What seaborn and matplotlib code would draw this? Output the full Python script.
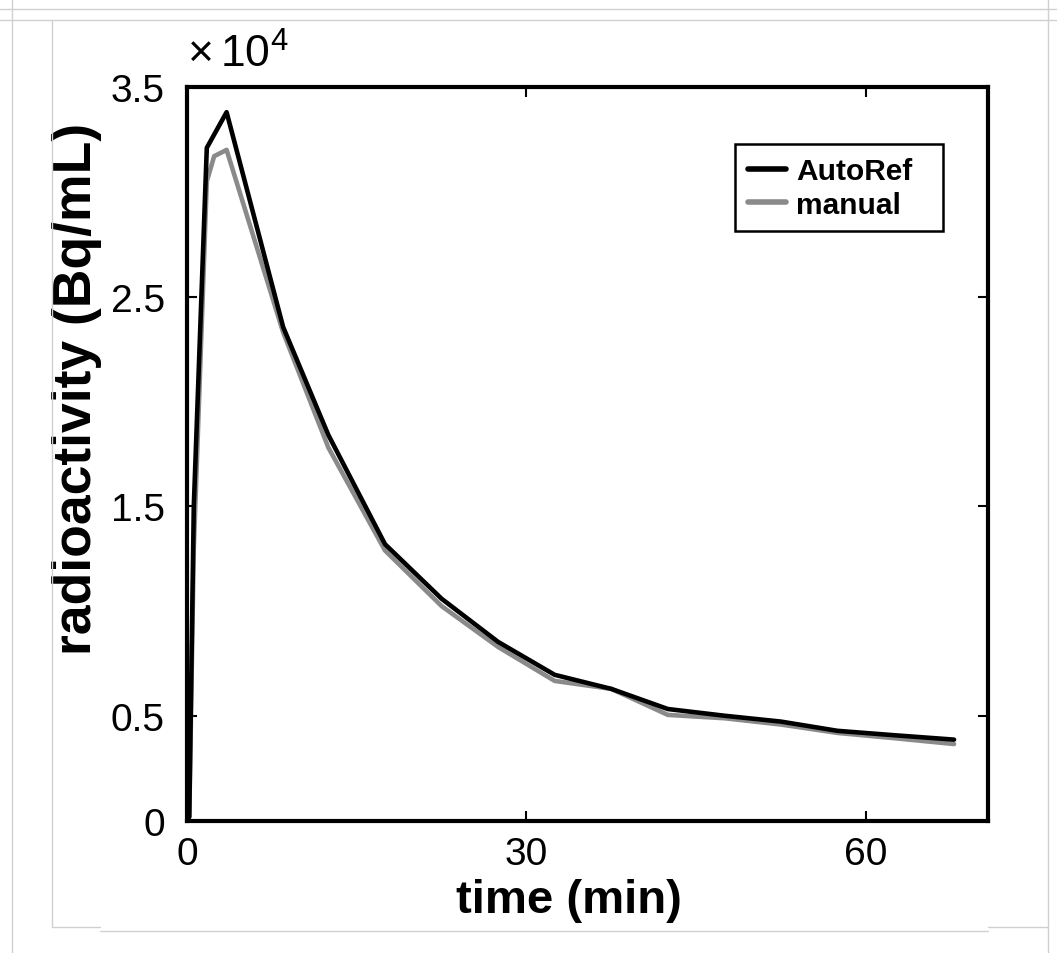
import matplotlib
matplotlib.use("Agg")
import matplotlib.pyplot as plt
from matplotlib.lines import Line2D
from matplotlib.patches import Rectangle
import seaborn as sns

# ---- data (radioactivity in Bq/mL, time in min) ----
time_auto = [0, 0.2, 0.6, 1.75, 3.5, 8.5, 12.5, 17.5, 22.5, 27.5, 32.5, 37.5,
             42.5, 47.5, 52.5, 57.5, 62.5, 67.8]
autoref = [0, 200, 15000, 32100, 33800, 23550, 18400, 13200, 10600, 8540,
           6970, 6300, 5340, 5020, 4740, 4300, 4090, 3880]

time_manual = [0, 0.2, 0.6, 1.75, 2.4, 3.5, 8.5, 12.5, 17.5, 22.5, 27.5, 32.5,
               37.5, 42.5, 47.5, 52.5, 57.5, 62.5, 67.8]
manual = [0, 200, 13000, 30500, 31700, 32000, 23300, 17800, 12900, 10250,
          8300, 6680, 6300, 5060, 4900, 4600, 4200, 3950, 3670]

yticks = [0, 5000, 15000, 25000, 35000]
ytick_labels = ["0", "0.5", "1.5", "2.5", "3.5"]
xticks = [0, 30, 60]
xtick_labels = ["0", "30", "60"]

sns.set_theme(style="white")
plt.rcParams['font.family'] = ['Liberation Sans', 'DejaVu Sans']
plt.rcParams['mathtext.fontset'] = 'custom'
plt.rcParams['mathtext.rm'] = 'Liberation Sans'
for k in ["text.color", "axes.labelcolor", "xtick.color", "ytick.color"]:
    plt.rcParams[k] = "black"

W, H = 1057, 954
fig = plt.figure(figsize=(W / 100, H / 100), dpi=100)
fig.patch.set_facecolor("white")
ax = fig.add_axes([187 / W, (H - 822) / H, (988 - 187) / W, (822 - 88) / H])

sns.lineplot(x=time_manual, y=manual, color="#8a8a8a", lw=3.3, label="manual",
             ax=ax, zorder=2)
sns.lineplot(x=time_auto, y=autoref, color="black", lw=3.3, label="AutoRef",
             ax=ax, zorder=3)

ax.set_xlim(0, 70.8)
ax.set_ylim(0, 35000)
ax.set_yticks(yticks)
ax.set_yticklabels(ytick_labels)
ax.set_xticks(xticks)
ax.set_xticklabels(xtick_labels)

for s in ax.spines.values():
    s.set_visible(True)
    s.set_color("black")
    s.set_linewidth(3.0)

ax.tick_params(axis="both", direction="in", length=7, width=1.5,
               top=True, right=True, bottom=True, left=True)
for t in ax.xaxis.get_ticklines() + ax.yaxis.get_ticklines():
    t.set_color("#555555")
ax.tick_params(axis="y", labelsize=28, pad=16, labelcolor="black")
ax.tick_params(axis="x", labelsize=28, pad=11, labelcolor="black")

ax.set_xlabel("time (min)", fontsize=34, fontweight="bold")
ax.xaxis.set_label_coords(0.477, -0.077)
ax.set_ylabel("radioactivity (Bq/mL)", fontsize=38.5, fontweight="bold")
ax.yaxis.set_label_coords(-0.106, 0.59)

fig.text(187 / W, (H - 68) / H, r"$\times\,10^{4}$", fontsize=32, ha="left",
         va="baseline")

# legend: AutoRef first
handles, labels = ax.get_legend_handles_labels()
order = [labels.index("AutoRef"), labels.index("manual")]
leg = ax.legend([handles[i] for i in order], [labels[i] for i in order],
                loc="upper left", bbox_to_anchor=(735 / W, 1 - 145 / H),
                bbox_transform=fig.transFigure,
                frameon=False, prop={"weight": "bold", "size": 21.5},
                handlelength=1.27, handletextpad=0.33, labelspacing=0.17,
                borderpad=0.45, borderaxespad=0)
for h in leg.get_lines():
    h.set_linewidth(4)
fig.add_artist(Rectangle((735 / W, 1 - 232 / H), 208 / W, 87 / H,
                         transform=fig.transFigure, fill=False,
                         edgecolor="black", lw=1.8, zorder=5))

# faint screenshot frame lines
gc = "#d0d0d0"
def fl(x0, y0, x1, y1):
    fig.add_artist(Line2D([x0 / W, x1 / W], [1 - y0 / H, 1 - y1 / H],
                          color=gc, lw=1.0, transform=fig.transFigure))
fl(0, 10, W, 10)
fl(0, 21, W, 21)
fl(12, 0, 12, H)
fl(52, 21, 52, 928)
fl(1048, 0, 1048, H)
fl(52, 928, 100, 928)
fl(100, 932, 988, 932)
fl(988, 928, 1048, 928)

fig.savefig("out.png", dpi=100, facecolor="white")
